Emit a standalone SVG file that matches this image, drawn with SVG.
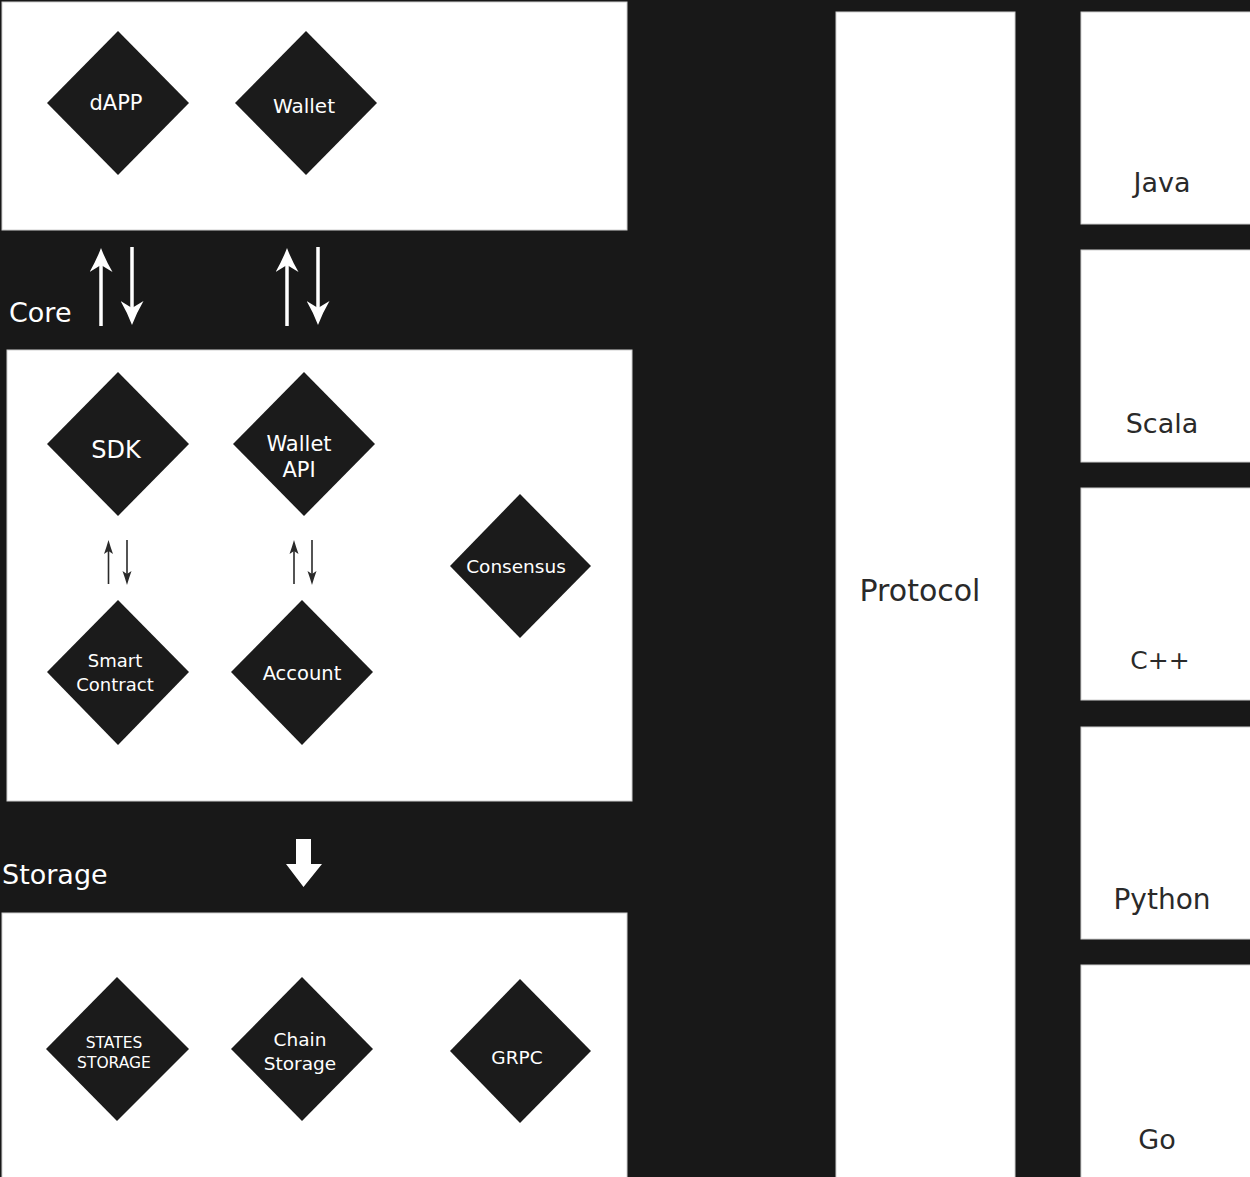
<svg xmlns="http://www.w3.org/2000/svg" width="1250" height="1177" viewBox="0 0 1250 1177">
<style>
.panel{fill:#ffffff;stroke:#cfcfcf;stroke-width:1}
.dia{fill:#1b1b1b}
.dt{fill:#ffffff;font-family:"DejaVu Sans","Noto Sans",sans-serif;text-anchor:middle}
.lt{fill:#2a2a2a;font-family:"DejaVu Sans","Noto Sans",sans-serif;text-anchor:middle}
.sec{fill:#ffffff;font-family:"DejaVu Sans","Noto Sans",sans-serif}
.wa{stroke:#ffffff;stroke-width:3.5;fill:none}
.da{stroke:#2a2a2a;stroke-width:1.6;fill:none}
</style>
<defs>
<marker id="wh" viewBox="0 0 24 23" refX="7" refY="11.5" markerWidth="24" markerHeight="23" markerUnits="userSpaceOnUse" orient="auto">
<path d="M0,0 Q12,7 24,11.5 Q12,16 0,23 L7,11.5 Z" fill="#ffffff"/>
</marker>
<marker id="dk" viewBox="0 0 14 10" refX="3" refY="5" markerWidth="14" markerHeight="10" orient="auto" markerUnits="userSpaceOnUse">
<path d="M0,0.5 Q7,3 14,5 Q7,7 0,9.5 L3,5 Z" fill="#2a2a2a"/>
</marker>
</defs>
<rect x="0" y="0" width="1250" height="1177" fill="#181818"/>

<g id="layer-app">
<rect class="panel" x="2" y="2" width="625" height="228"/>
</g>
<g id="layer-core">
<rect class="panel" x="7" y="350" width="625" height="451"/>
<text class="sec" x="9" y="322" font-size="27">Core</text>
</g>
<g id="layer-storage">
<rect class="panel" x="2" y="913" width="625" height="270"/>
<text class="sec" x="2" y="884" font-size="27">Storage</text>
</g>

<g id="protocol">
<rect class="panel" x="836" y="12" width="179" height="1170"/>
<text class="lt" x="920" y="601" font-size="30">Protocol</text>
</g>
<g id="java">
<rect class="panel" x="1081" y="12" width="175" height="212"/>
<text class="lt" x="1162" y="192" font-size="27">Java</text>
</g>
<g id="scala">
<rect class="panel" x="1081" y="250" width="175" height="212"/>
<text class="lt" x="1162" y="433" font-size="27">Scala</text>
</g>
<g id="cpp">
<rect class="panel" x="1081" y="488" width="175" height="212"/>
<text class="lt" x="1160" y="669" font-size="25">C++</text>
</g>
<g id="python">
<rect class="panel" x="1081" y="727" width="175" height="212"/>
<text class="lt" x="1162" y="909" font-size="28">Python</text>
</g>
<g id="go">
<rect class="panel" x="1081" y="965" width="175" height="220"/>
<text class="lt" x="1157" y="1149" font-size="27">Go</text>
</g>

<g id="dapp">
<polygon class="dia" points="118,31 189,103 118,175 47,103"/>
<text class="dt" x="116" y="110" font-size="21">dAPP</text>
</g>
<g id="wallet">
<polygon class="dia" points="306,31 377,103 306,175 235,103"/>
<text class="dt" x="304" y="113" font-size="20">Wallet</text>
</g>
<g id="sdk">
<polygon class="dia" points="118,372 189,444 118,516 47,444"/>
<text class="dt" x="116" y="458" font-size="24">SDK</text>
</g>
<g id="wallet-api">
<polygon class="dia" points="304,372 375,444 304,516 233,444"/>
<text class="dt" x="299" y="451" font-size="21">Wallet</text>
<text class="dt" x="299" y="477" font-size="21">API</text>
</g>
<g id="consensus">
<polygon class="dia" points="520,494 591,566 520,638 450,566"/>
<text class="dt" x="516" y="573" font-size="18.5">Consensus</text>
</g>
<g id="smart-contract">
<polygon class="dia" points="118,600 189,672 118,745 47,672"/>
<text class="dt" x="115" y="667" font-size="18">Smart</text>
<text class="dt" x="115" y="691" font-size="18">Contract</text>
</g>
<g id="account">
<polygon class="dia" points="302,600 373,672 302,745 231,672"/>
<text class="dt" x="302" y="680" font-size="19.5">Account</text>
</g>
<g id="states-storage">
<polygon class="dia" points="117,977 189,1049 117,1121 46,1049"/>
<text class="dt" x="114" y="1048" font-size="15.5">STATES</text>
<text class="dt" x="114" y="1068" font-size="15.5">STORAGE</text>
</g>
<g id="chain-storage">
<polygon class="dia" points="302,977 373,1049 302,1121 231,1049"/>
<text class="dt" x="300" y="1046" font-size="18.5">Chain</text>
<text class="dt" x="300" y="1070" font-size="18.5">Storage</text>
</g>
<g id="grpc">
<polygon class="dia" points="520,979 591,1051 520,1123 450,1051"/>
<text class="dt" x="517" y="1064" font-size="18.5">GRPC</text>
</g>

<g id="connectors">
<path class="wa" d="M101,326 L101,265" marker-end="url(#wh)"/>
<path class="wa" d="M132,247 L132,308" marker-end="url(#wh)"/>
<path class="wa" d="M287,326 L287,265" marker-end="url(#wh)"/>
<path class="wa" d="M318,247 L318,308" marker-end="url(#wh)"/>
<path class="da" d="M108.5,584 L108.5,551" marker-end="url(#dk)"/>
<path class="da" d="M127,540 L127,574" marker-end="url(#dk)"/>
<path class="da" d="M294,584 L294,551" marker-end="url(#dk)"/>
<path class="da" d="M312,540 L312,574" marker-end="url(#dk)"/>
<polygon fill="#ffffff" points="296,839 311,839 311,864 322,864 303.5,887 286,864 296,864"/>
</g>
</svg>
